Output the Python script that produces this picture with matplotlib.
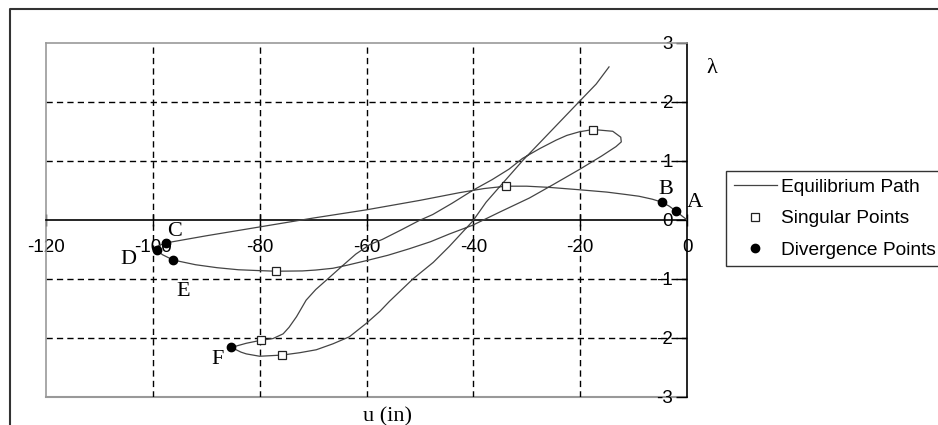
"""Equilibrium path with singular and divergence points (lambda vs u)"""

import matplotlib
matplotlib.use("Agg")
import matplotlib.pyplot as plt
from matplotlib.lines import Line2D

plt.rcParams['axes.unicode_minus'] = False

# Equilibrium path, traced from the origin through A ... F to the end
path_u = [0, -1.0, -2.1, -3.3, -4.7, -6.5, -9, -11.5, -15, -20.2, -25.8, -30, -33.9,
          -38, -42.6, -50, -60, -70, -80, -90, -97.5, -99.0, -99.3, -98.2, -96.2,
          -92, -88, -84, -80, -76.9, -72, -69.5, -66.3, -63.7, -60, -56, -52, -48,
          -44.5, -40.1, -35.1, -29.5, -25, -20.2, -16, -13.3, -12.3, -12.4, -13.9,
          -17.6, -20.2, -22.5, -24.5, -27.5, -30.8, -33.3, -36.5, -40.1, -44, -47.6,
          -50.1, -53.5, -57, -59.4, -62, -64.4, -67.5, -69.5, -71.3, -73.1, -74.5,
          -75.6, -77.5, -79.8, -82.5, -85.3, -83.5, -82.5, -80, -75.8, -72.5, -69.4,
          -66.3, -63.2, -60, -57.5, -55.7, -51.3, -47.5, -44.5, -40.1, -37.6, -34.5,
          -30.7, -25.5, -20.2, -17, -14.6]
path_lam = [0, 0.07, 0.15, 0.23, 0.30, 0.35, 0.40, 0.43, 0.47, 0.51, 0.55, 0.57, 0.57,
            0.53, 0.46, 0.33, 0.17, 0.03, -0.12, -0.27, -0.39, -0.44, -0.51, -0.59, -0.68,
            -0.76, -0.81, -0.845, -0.86, -0.87, -0.865, -0.85, -0.82, -0.77, -0.69, -0.60,
            -0.49, -0.37, -0.24, -0.09, 0.13, 0.37, 0.60, 0.85, 1.08, 1.24, 1.32, 1.40,
            1.50, 1.53, 1.49, 1.43, 1.35, 1.21, 1.04, 0.86, 0.68, 0.50, 0.28, 0.09,
            -0.01, -0.17, -0.33, -0.42, -0.58, -0.77, -1.02, -1.18, -1.36, -1.64, -1.82,
            -1.93, -2.01, -2.04, -2.09, -2.16, -2.24, -2.27, -2.31, -2.29, -2.25, -2.20,
            -2.10, -1.98, -1.75, -1.55, -1.38, -1.00, -0.72, -0.45, -0.02, 0.30, 0.62,
            1.01, 1.50, 2.00, 2.30, 2.59]

# Singular points
sing_u = [-33.9, -17.6, -76.9, -79.8, -75.8]
sing_lam = [0.57, 1.53, -0.87, -2.04, -2.29]

# Divergence points A-F
div_names = ['A', 'B', 'C', 'D', 'E', 'F']
div_u = [-2.1, -4.7, -97.5, -99.3, -96.2, -85.3]
div_lam = [0.15, 0.30, -0.39, -0.51, -0.68, -2.16]
div_label_u = [1.4, -3.9, -95.9, -104.5, -94.4, -87.8]
div_label_lam = [0.29, 0.52, -0.19, -0.67, -1.21, -2.36]

x_ticks = [-120, -100, -80, -60, -40, -20, 0]
y_ticks = [-3, -2, -1, 0, 1, 2, 3]
grid_x = [-100, -80, -60, -40, -20]
grid_y = [-2, -1, 1, 2]

sans = 'Liberation Sans'
serif = 'Liberation Serif'

fig = plt.figure(figsize=(9.38, 4.25), dpi=100)
ax = fig.add_axes([46 / 938, 1 - 397 / 425, 641 / 938, 354.3 / 425])

# outer frame of the figure (top and left edges)
fig.add_artist(Line2D([10 / 938, 10 / 938, 1.0], [0.0, 1 - 9 / 425, 1 - 9 / 425],
                      transform=fig.transFigure, color='#333333', lw=1.5))

ax.set_xlim(-120, 0)
ax.set_ylim(-3, 3)

# dashed grid
for gx in grid_x:
    ax.axvline(gx, color='black', lw=1.0, dashes=(4.5, 3), zorder=1)
for gy in grid_y:
    ax.axhline(gy, color='black', lw=1.0, dashes=(4.5, 3), zorder=1)

# spines: gray box, black axes at u=0 and lambda=0
for side in ['left', 'top']:
    ax.spines[side].set_color('#999999')
    ax.spines[side].set_linewidth(1.2)
ax.spines['bottom'].set_position(('data', 0))
ax.spines['bottom'].set_color('black')
ax.spines['bottom'].set_linewidth(1.2)
ax.spines['right'].set_color('black')
ax.spines['right'].set_linewidth(1.2)
ax.axhline(-3, color='#999999', lw=1.5, clip_on=False, zorder=0)

ax.set_xticks(x_ticks)
ax.set_xticklabels([str(v) for v in x_ticks], fontfamily=sans, fontsize=13.5)
ax.tick_params(axis='x', direction='inout', length=8, width=1, pad=10)

ax.yaxis.tick_right()
ax.set_yticks(y_ticks)
ax.set_yticklabels([str(v) for v in y_ticks], fontfamily=sans, fontsize=13.5)
ax.tick_params(axis='y', direction='in', length=8, width=1, pad=-10)
for lab in ax.get_yticklabels():
    lab.set_ha('right')

# curves and points
ax.plot(path_u, path_lam, color='#444444', lw=0.9, label='Equilibrium Path', zorder=3)
ax.plot(sing_u, sing_lam, ls='none', marker='s', ms=5.5, mfc='white', mec='#222222',
        mew=0.9, label='Singular Points', zorder=4)
ax.plot(div_u, div_lam, ls='none', marker='o', ms=6, color='black',
        label='Divergence Points', zorder=5)

for name, lu, ll in zip(div_names, div_label_u, div_label_lam):
    ax.text(lu, ll, name, fontfamily=serif, fontsize=16, ha='center', va='center', zorder=6)

ax.text(4.7, 2.56, 'λ', fontfamily=serif, fontsize=16, ha='center', va='center',
        clip_on=False)
ax.text(0.533, -0.056, 'u (in)', transform=ax.transAxes, fontfamily=serif, fontsize=16,
        ha='center', va='center', clip_on=False)

leg = fig.legend(loc='upper left', bbox_to_anchor=(726 / 938, 1 - 171 / 425),
                 borderaxespad=0, frameon=True, fancybox=False, numpoints=1,
                 prop={'family': sans, 'size': 13.8}, handlelength=2.25,
                 handletextpad=0.2, labelspacing=0.72, borderpad=0.4)
leg.get_frame().set_edgecolor('black')
leg.get_frame().set_linewidth(1.0)

fig.savefig('out.png', dpi=100)
